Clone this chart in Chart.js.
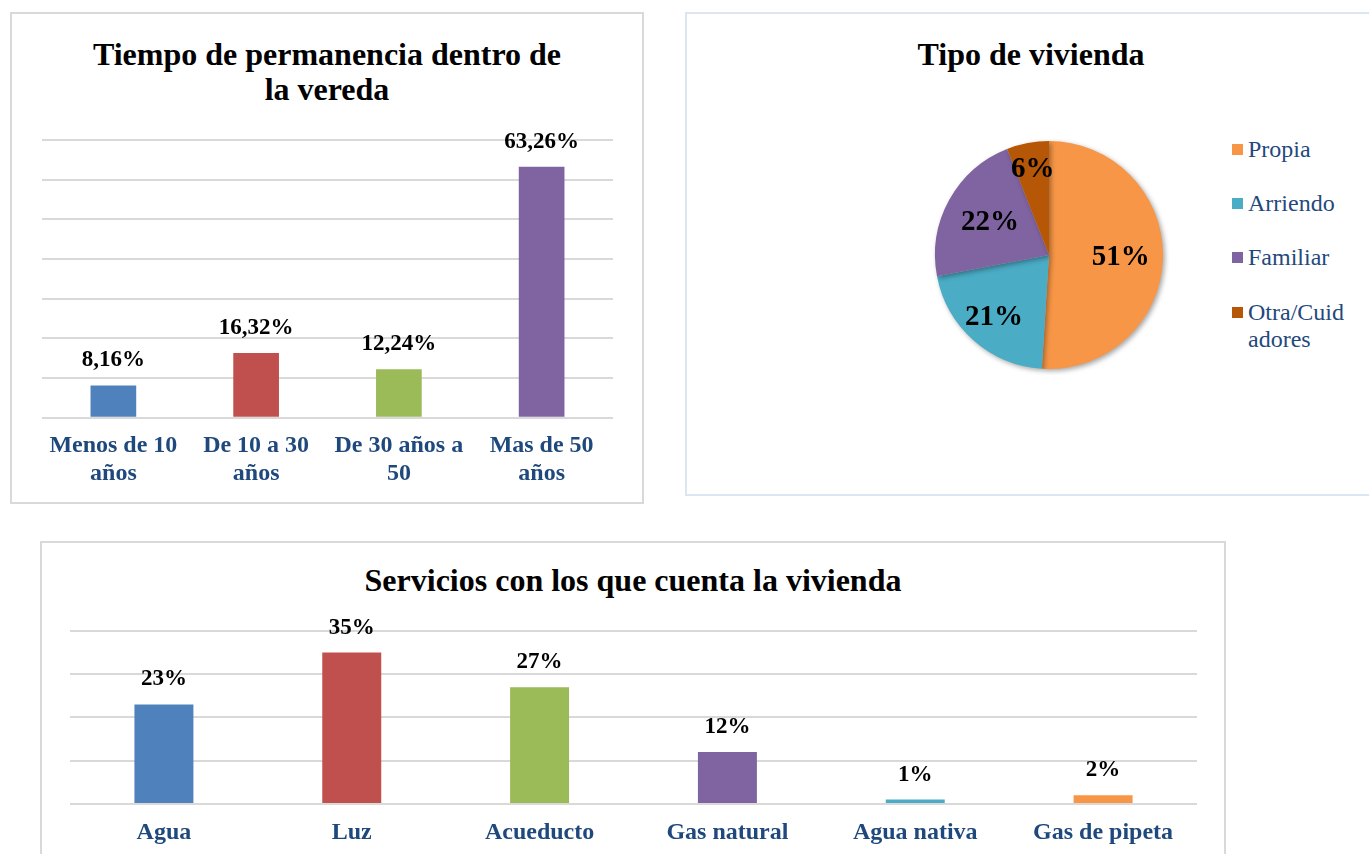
<!DOCTYPE html>
<html>
<head>
<meta charset="utf-8">
<script src="https://cdn.jsdelivr.net/npm/chart.js@4.4.1/dist/chart.umd.min.js"></script>
<style>
  html, body { margin: 0; padding: 0; background: #fff; width: 1369px; height: 854px; overflow: hidden; position: relative; font-family: "Liberation Serif", serif; }
  .box { position: absolute; box-sizing: border-box; background: #fff; }
  .title { position: absolute; left: 0; right: 0; text-align: center; font-family: "Liberation Serif", serif; font-weight: bold; font-size: 32px; line-height: 35px; color: #000; }
  .cv { position: absolute; }
  .legend { position: absolute; left: 1232px; top: 0; font-family: "Liberation Serif", serif; font-size: 24px; color: #1F497D; }
  .legend .item { position: absolute; left: 0; white-space: nowrap; }
  .legend .sw { position: absolute; left: 0; width: 11px; height: 11px; }
  .legend .tx { position: absolute; left: 16px; line-height: 27px; width: 110px; white-space: normal; word-break: break-all; }
</style>
</head>
<body>
<div class="box" style="left:10px;top:12px;width:634px;height:492px;border:2px solid #D9D9D9;"></div>
<div class="box" style="left:685px;top:12px;width:700px;height:484px;border:2px solid #DCE6F2;"></div>
<div class="box" style="left:40px;top:541px;width:1186px;height:340px;border:2px solid #D9D9D9;"></div>

<div class="title" style="left:10px;width:634px;top:37px;">Tiempo de permanencia dentro de<br>la vereda</div>
<div class="title" style="left:685px;width:692px;top:37px;">Tipo de vivienda</div>
<div class="title" style="left:40px;width:1186px;top:563px;">Servicios con los que cuenta la vivienda</div>

<canvas id="c1" class="cv" style="left:12px;top:100px;" width="630" height="415"></canvas>
<canvas id="c2" class="cv" style="left:929px;top:135px;" width="240" height="240"></canvas>
<canvas id="c3" class="cv" style="left:42px;top:600px;" width="1182" height="270"></canvas>
<div class="legend" id="lg"></div>

<script>
// ---- Data ----
const permCategories = [["Menos de 10", "años"], ["De 10 a 30", "años"], ["De 30 años a", "50"], ["Mas de 50", "años"]];
const permValues = [8.16, 16.32, 12.24, 63.26];
const permLabels = ["8,16%", "16,32%", "12,24%", "63,26%"];

const viviendaCategories = ["Propia", "Arriendo", "Familiar", "Otra/Cuidadores"];
const viviendaLegend = ["Propia", "Arriendo", "Familiar", "Otra/Cuid adores"];
const viviendaValues = [51, 21, 22, 6];

const serviciosCategories = ["Agua", "Luz", "Acueducto", "Gas natural", "Agua nativa", "Gas de pipeta"];
const serviciosValues = [23, 35, 27, 12, 1, 2];

// ---- Styles ----
const FONT = "'Liberation Serif', serif";
const AXIS_BLUE = "#1F497D";
const GRID = "#D9D9D9";
const permColors = ["#4F81BD", "#C0504D", "#9BBB59", "#8064A2"];
const viviendaColors = ["#F79646", "#4BACC6", "#8064A2", "#B65708"];
const serviciosColors = ["#4F81BD", "#C0504D", "#9BBB59", "#8064A2", "#4BACC6", "#F79646"];

function build() {
  Chart.defaults.animation = false;
  Chart.defaults.font.family = FONT;

  const barLabelPlugin = {
    id: 'barLabels',
    afterDatasetsDraw(chart, args, opts) {
      const ctx = chart.ctx;
      const meta = chart.getDatasetMeta(0);
      ctx.save();
      ctx.font = "bold " + opts.size + "px " + FONT;
      ctx.fillStyle = "#000";
      ctx.textAlign = "center";
      ctx.textBaseline = "middle";
      meta.data.forEach((bar, i) => {
        ctx.fillText(opts.texts[i], bar.x, bar.y - opts.offset);
      });
      ctx.restore();
    }
  };

  function barOptions(max, pad, labelTexts, tickPad) {
    return {
      responsive: false,
      animation: false,
      layout: { padding: pad },
      plugins: {
        legend: { display: false },
        tooltip: { enabled: false },
        title: { display: false },
        barLabels: { texts: labelTexts, size: 23, offset: 25 }
      },
      scales: {
        x: {
          grid: { display: false, drawTicks: false },
          border: { display: false },
          ticks: { color: AXIS_BLUE, font: { family: FONT, size: 24, weight: 'bold', lineHeight: 1.17 }, padding: tickPad, maxRotation: 0, autoSkip: false }
        },
        y: {
          min: 0, max: max,
          ticks: { display: false, stepSize: 10 },
          grid: { color: GRID, lineWidth: 2, drawTicks: false },
          border: { display: false }
        }
      }
    };
  }

  new Chart(document.getElementById('c1'), {
    type: 'bar',
    data: {
      labels: permCategories,
      datasets: [{ data: permValues, backgroundColor: permColors, categoryPercentage: 1, barPercentage: 0.32 }]
    },
    options: barOptions(70, { left: 30, right: 29, top: 40, bottom: 13 }, permLabels, 14),
    plugins: [barLabelPlugin]
  });

  new Chart(document.getElementById('c3'), {
    type: 'bar',
    data: {
      labels: serviciosCategories,
      datasets: [{ data: serviciosValues, backgroundColor: serviciosColors, categoryPercentage: 1, barPercentage: 0.314 }]
    },
    options: barOptions(40, { left: 28, right: 27, top: 31, bottom: 8 }, serviciosValues.map(v => v + "%"), 15),
    plugins: [barLabelPlugin]
  });

  const shadowPlugin = {
    id: 'pieShadow',
    beforeDatasetsDraw(chart) {
      const ctx = chart.ctx;
      ctx.save();
      ctx.shadowColor = "rgba(0,0,0,0.35)";
      ctx.shadowBlur = 5;
      ctx.shadowOffsetX = 2;
      ctx.shadowOffsetY = 2;
    },
    afterDatasetsDraw(chart) {
      chart.ctx.restore();
    }
  };

  const pieLabelPlugin = {
    id: 'pieLabels',
    afterDatasetsDraw(chart, args, opts) {
      const ctx = chart.ctx;
      const meta = chart.getDatasetMeta(0);
      const total = viviendaValues.reduce((a, b) => a + b, 0);
      ctx.save();
      ctx.font = "bold 29px " + FONT;
      ctx.fillStyle = "#000";
      ctx.textAlign = "center";
      ctx.textBaseline = "middle";
      meta.data.forEach((arc, i) => {
        const mid = (arc.startAngle + arc.endAngle) / 2;
        const r = arc.outerRadius * opts.radius[i];
        ctx.fillText(Math.round(viviendaValues[i] / total * 100) + "%", arc.x + Math.cos(mid) * r, arc.y + Math.sin(mid) * r);
      });
      ctx.restore();
    }
  };

  new Chart(document.getElementById('c2'), {
    type: 'pie',
    data: {
      labels: viviendaCategories,
      datasets: [{ data: viviendaValues, backgroundColor: viviendaColors, borderWidth: 0, hoverOffset: 0 }]
    },
    options: {
      responsive: false,
      animation: false,
      layout: { padding: 6 },
      plugins: {
        legend: { display: false },
        tooltip: { enabled: false },
        pieLabels: { radius: [0.63, 0.73, 0.59, 0.76] }
      }
    },
    plugins: [shadowPlugin, pieLabelPlugin]
  });

  const legendTops = [150, 204, 258, 313];
  const lg = document.getElementById('lg');
  viviendaLegend.forEach((name, i) => {
    const it = document.createElement('div');
    it.className = 'item';
    it.style.top = (legendTops[i] - 14) + 'px';
    const sw = document.createElement('div');
    sw.className = 'sw';
    sw.style.background = viviendaColors[i];
    sw.style.top = '8px';
    const tx = document.createElement('div');
    tx.className = 'tx';
    tx.textContent = name;
    it.appendChild(sw);
    it.appendChild(tx);
    lg.appendChild(it);
  });
}

Promise.all([
  document.fonts.load("bold 24px 'Liberation Serif'"),
  document.fonts.load("24px 'Liberation Serif'")
]).then(build, build);
</script>
</body>
</html>
